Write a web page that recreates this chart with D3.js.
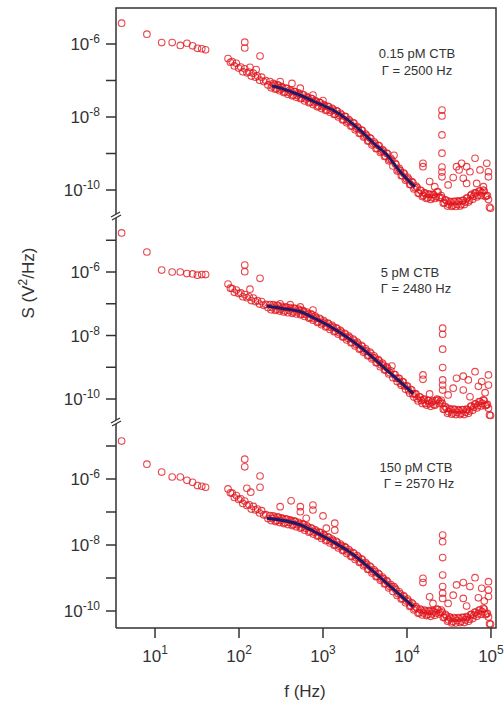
<!DOCTYPE html>
<html>
<head>
<meta charset="utf-8">
<script src="https://cdnjs.cloudflare.com/ajax/libs/d3/7.8.5/d3.min.js"></script>
<style>
  body { margin: 0; background: #fff; }
  text { font-family: "Liberation Sans", Arial, sans-serif; fill: #333; }
</style>
</head>
<body>
<script>
// frequency grid (Hz), shared by the three spectra
var freq = [4, 8, 12, 16, 20, 24, 28, 32, 36, 40,
  74, 79, 83, 88, 93, 99,
  105, 111, 117, 124, 132, 140, 148, 157, 166, 176,
  186, 197, 209, 221, 234, 248, 263, 279, 295, 313,
  331, 351, 372, 394, 417, 442, 468, 495, 525, 556,
  589, 624, 661, 700, 741, 785, 832, 881, 933, 989,
  1047, 1109, 1175, 1245, 1318, 1396, 1479, 1567, 1660, 1758,
  1862, 1972, 2089, 2213, 2344, 2483, 2630, 2786, 2951, 3126,
  3311, 3508, 3715, 3936, 4169, 4416, 4677, 4955, 5248, 5559,
  5888, 6237, 6607, 6998, 7413, 7852, 8318, 8810, 9333, 9886,
  10470, 11090, 11750, 12450, 13180, 13960, 14790, 15670, 16600, 17580,
  18620, 19720, 20890, 22130, 23440, 24830, 26300, 27860, 29510, 31260,
  33110, 35080, 37150, 39360, 41690, 44160, 46770, 49550, 52480, 55590,
  58880, 62370, 66070, 69980, 74130, 78520, 83180, 88100, 93330, 98860]

// log10 S (V^2/Hz) for each concentration, same order as freq
var logS015 = [-5.43, -5.73, -5.96, -5.96, -6.04, -5.98, -6.05, -6.12, -6.13, -6.16,
  -6.40, -6.50, -6.48, -6.60, -6.53, -6.66,
  -6.63, -6.76, -6.68, -6.79, -6.77, -6.88, -6.80, -6.91, -6.88, -6.99,
  -6.91, -7.03, -7.00, -7.12, -7.03, -7.15, -7.11, -7.22, -7.13, -7.24,
  -7.20, -7.31, -7.22, -7.33, -7.29, -7.40, -7.31, -7.41, -7.37, -7.48,
  -7.39, -7.51, -7.47, -7.59, -7.50, -7.61, -7.58, -7.70, -7.61, -7.72,
  -7.69, -7.80, -7.72, -7.82, -7.79, -7.92, -7.84, -7.96, -7.94, -8.07,
  -7.99, -8.12, -8.11, -8.24, -8.17, -8.31, -8.30, -8.44, -8.37, -8.52,
  -8.51, -8.65, -8.59, -8.73, -8.72, -8.86, -8.79, -8.94, -8.93, -9.07,
  -9.01, -9.17, -9.18, -9.05, -9.30, -9.45, -9.46, -9.61, -9.56, -9.70,
  -9.70, -9.85, -9.80, -9.94, -9.93, -10.09, -10.02, -10.15, -10.10, -10.21,
  -10.12, -10.21, -10.13, -10.18, -10.05, -10.20, -10.22, -10.35, -10.29, -10.39,
  -10.33, -10.42, -10.32, -10.39, -10.32, -10.40, -10.28, -10.33, -10.22, -10.28,
  -10.12, -10.17, -10.08, -10.15, -10.03, -10.08, -10.03, -10.16, -10.26, -10.50]

var logS5 = [-4.77, -5.37, -5.94, -6.00, -6.00, -6.05, -6.06, -6.10, -6.08, -6.08,
  -6.38, -6.51, -6.52, -6.64, -6.57, -6.68,
  -6.66, -6.78, -6.71, -6.81, -6.78, -6.90, -6.82, -6.93, -6.90, -7.01,
  -6.93, -7.05, -7.02, -7.12, -7.03, -7.12, -7.07, -7.17, -7.07, -7.17,
  -7.12, -7.22, -7.12, -7.21, -7.16, -7.26, -7.16, -7.26, -7.21, -7.32,
  -7.24, -7.34, -7.31, -7.43, -7.35, -7.47, -7.44, -7.57, -7.49, -7.61,
  -7.58, -7.71, -7.64, -7.75, -7.73, -7.86, -7.79, -7.91, -7.89, -8.03,
  -7.96, -8.09, -8.07, -8.21, -8.15, -8.28, -8.27, -8.41, -8.35, -8.49,
  -8.48, -8.62, -8.56, -8.70, -8.70, -8.85, -8.80, -8.93, -8.93, -9.08,
  -9.03, -9.17, -8.96, -9.23, -9.35, -9.35, -9.50, -9.45, -9.59, -9.59,
  -9.74, -9.70, -9.84, -9.84, -9.99, -9.93, -10.05, -10.02, -10.14, -10.05,
  -10.15, -10.10, -10.17, -10.05, -10.03, -10.09, -10.14, -10.32, -10.29, -10.40,
  -10.34, -10.44, -10.34, -10.42, -10.36, -10.45, -10.34, -10.42, -10.34, -10.38,
  -10.22, -10.26, -10.16, -10.21, -10.09, -10.14, -10.05, -10.19, -10.29, -10.52]

var logS150 = [-4.85, -5.55, -5.79, -5.94, -5.94, -6.04, -6.10, -6.20, -6.22, -6.25,
  -6.30, -6.42, -6.43, -6.56, -6.50, -6.62,
  -6.60, -6.74, -6.67, -6.80, -6.78, -6.91, -6.83, -6.94, -6.91, -7.03,
  -6.96, -7.09, -7.08, -7.20, -7.11, -7.20, -7.16, -7.26, -7.16, -7.26,
  -7.21, -7.32, -7.22, -7.32, -7.27, -7.38, -7.29, -7.39, -7.35, -7.46,
  -7.38, -7.49, -7.46, -7.58, -7.50, -7.61, -7.58, -7.71, -7.63, -7.75,
  -7.72, -7.85, -7.77, -7.89, -7.86, -7.99, -7.92, -8.04, -8.02, -8.15,
  -8.08, -8.21, -8.19, -8.33, -8.26, -8.39, -8.37, -8.51, -8.45, -8.59,
  -8.58, -8.73, -8.67, -8.81, -8.80, -8.95, -8.89, -9.03, -9.02, -9.17,
  -9.12, -9.26, -9.25, -9.26, -9.36, -9.48, -9.48, -9.62, -9.57, -9.70,
  -9.70, -9.84, -9.79, -9.93, -9.92, -10.05, -9.97, -10.06, -10.00, -10.10,
  -10.01, -10.09, -10.02, -10.06, -9.96, -10.04, -10.03, -10.19, -10.15, -10.27,
  -10.22, -10.32, -10.22, -10.29, -10.22, -10.31, -10.20, -10.27, -10.19, -10.25,
  -10.10, -10.13, -10.04, -10.09, -9.97, -10.02, -9.94, -10.09, -10.18, -10.40]

// second, interleaved frequency set above 240 Hz (dense part of the spectra)
var freqB = [241, 256, 271, 287, 304,
  322, 341, 361, 382, 405, 429, 454, 481, 510, 540,
  572, 606, 642, 680, 720, 763, 808, 856, 907, 961,
  1018, 1078, 1142, 1210, 1281, 1357, 1437, 1522, 1613, 1708,
  1809, 1917, 2030, 2150, 2278, 2413, 2556, 2707, 2867, 3037,
  3217, 3408, 3610, 3824, 4050, 4290, 4545, 4814, 5099, 5401,
  5721, 6061, 6420, 6800, 7203, 7630, 8082, 8561, 9069, 9606,
  10170, 10780, 11420, 12090, 12810, 13570, 14370, 15220, 16130, 17080,
  18090, 19170, 20300, 21500, 22780, 24130, 25560, 27070, 28670, 30370,
  32170, 34080, 36100, 38240, 40500, 42900, 45450, 48140, 50990, 54010,
  57210, 60610, 64200, 68000, 72030, 76300, 80820, 85610, 90690, 96060]

var logS015B = [-7.20, -7.08, -7.24, -7.12, -7.28,
  -7.17, -7.33, -7.21, -7.38, -7.26, -7.42, -7.30, -7.46, -7.34, -7.50,
  -7.39, -7.56, -7.44, -7.61, -7.49, -7.66, -7.55, -7.72, -7.60, -7.77,
  -7.66, -7.82, -7.71, -7.87, -7.76, -7.93, -7.83, -8.00, -7.90, -8.08,
  -7.98, -8.16, -8.07, -8.25, -8.16, -8.35, -8.26, -8.45, -8.36, -8.55,
  -8.47, -8.66, -8.57, -8.77, -8.68, -8.87, -8.78, -8.97, -8.89, -9.08,
  -8.99, -9.20, -9.13, -9.34, -9.27, -9.48, -9.41, -9.61, -9.53, -9.73,
  -9.65, -9.85, -9.77, -9.97, -9.89, -10.09, -10.00, -10.18, -10.07, -10.23,
  -10.11, -10.26, -10.12, -10.23, -10.05, -10.21, -10.15, -10.36, -10.27, -10.44,
  -10.31, -10.45, -10.31, -10.45, -10.30, -10.44, -10.29, -10.40, -10.22, -10.33,
  -10.15, -10.25, -10.08, -10.19, -10.03, -10.15, -10.00, -10.18, -10.15, -10.47]

var logS5B = [-7.19, -7.03, -7.21, -7.05, -7.23,
  -7.08, -7.26, -7.10, -7.28, -7.12, -7.30, -7.14, -7.32, -7.17, -7.35,
  -7.21, -7.40, -7.26, -7.46, -7.32, -7.52, -7.39, -7.59, -7.46, -7.66,
  -7.53, -7.73, -7.61, -7.81, -7.68, -7.88, -7.76, -7.96, -7.84, -8.05,
  -7.93, -8.14, -8.02, -8.23, -8.11, -8.33, -8.21, -8.43, -8.31, -8.53,
  -8.42, -8.64, -8.52, -8.74, -8.64, -8.86, -8.76, -8.98, -8.87, -9.09,
  -8.99, -9.21, -9.11, -9.33, -9.23, -9.45, -9.35, -9.57, -9.47, -9.69,
  -9.59, -9.82, -9.72, -9.94, -9.84, -10.06, -9.94, -10.14, -10.00, -10.19,
  -10.05, -10.23, -10.06, -10.20, -10.00, -10.14, -10.04, -10.32, -10.24, -10.45,
  -10.30, -10.48, -10.32, -10.49, -10.33, -10.49, -10.33, -10.49, -10.32, -10.45,
  -10.23, -10.35, -10.15, -10.28, -10.08, -10.22, -10.03, -10.21, -10.17, -10.50]

var logS150B = [-7.26, -7.12, -7.29, -7.15, -7.32,
  -7.18, -7.35, -7.21, -7.38, -7.24, -7.41, -7.27, -7.45, -7.31, -7.49,
  -7.36, -7.55, -7.42, -7.61, -7.48, -7.67, -7.54, -7.73, -7.61, -7.80,
  -7.68, -7.87, -7.75, -7.94, -7.82, -8.01, -7.89, -8.09, -7.97, -8.17,
  -8.05, -8.26, -8.14, -8.35, -8.23, -8.44, -8.32, -8.53, -8.42, -8.63,
  -8.53, -8.74, -8.64, -8.85, -8.75, -8.96, -8.86, -9.07, -8.97, -9.18,
  -9.08, -9.30, -9.20, -9.41, -9.31, -9.53, -9.42, -9.64, -9.53, -9.75,
  -9.64, -9.86, -9.75, -9.97, -9.87, -10.07, -9.94, -10.12, -9.97, -10.14,
  -9.99, -10.16, -9.99, -10.13, -9.94, -10.09, -9.97, -10.20, -10.10, -10.31,
  -10.18, -10.36, -10.20, -10.36, -10.20, -10.35, -10.19, -10.35, -10.17, -10.31,
  -10.11, -10.23, -10.03, -10.16, -9.97, -10.10, -9.92, -10.11, -10.07, -10.39]

// isolated points above the spectra (mains peaks, spurs): [f, log10 S]
var extra015 = [[117, -5.95], [117, -6.11], [178, -6.33], [135, -6.64], [160, -6.70],
  [309, -7.03], [427, -7.08], [537, -7.21], [760, -7.40], [1000, -7.55],
  [26100, -7.81], [26100, -7.97], [26100, -8.49], [26100, -8.99], [26100, -9.37], [26100, -9.51], [26100, -9.64],
  [15500, -9.27], [15500, -9.36], [18600, -9.77], [21400, -9.91], [30900, -9.86], [35500, -9.66],
  [38900, -9.36], [44700, -9.27], [46800, -9.68], [51300, -9.36], [56200, -9.50], [64600, -9.13],
  [67600, -9.82], [74100, -9.45], [81300, -9.91], [89100, -9.27], [93300, -9.50], [93300, -9.64],
  [51300, -9.82], [41700, -9.45]]

var extra5 = [[117, -5.78], [117, -5.99], [178, -6.20], [135, -6.54],
  [309, -7.00], [407, -7.03], [537, -7.10], [760, -7.20],
  [26600, -7.77], [26600, -7.96], [26600, -8.43], [26600, -9.01], [26600, -9.40], [26600, -9.56], [26600, -9.72],
  [15500, -9.24], [15500, -9.38], [18600, -9.84], [30900, -9.87], [38900, -9.35], [46800, -9.28],
  [53700, -9.40], [64600, -9.14], [77600, -9.45], [93300, -9.24], [93300, -9.56], [46800, -9.72],
  [56200, -9.93], [35500, -9.66], [70800, -9.60], [85100, -9.80]]

var extra150 = [[117, -5.40], [117, -5.63], [178, -5.91], [178, -6.25], [124, -6.28], [138, -6.40],
  [309, -6.84], [417, -6.66], [537, -6.84], [537, -6.99], [631, -7.19], [759, -6.79], [759, -6.94],
  [1000, -7.12], [1096, -7.49], [1380, -7.34], [1380, -7.55],
  [26600, -7.70], [26600, -7.90], [26600, -8.38], [26600, -8.91], [26600, -9.26], [26600, -9.46], [26600, -9.62],
  [15500, -9.01], [15500, -9.14], [18600, -9.57], [20400, -9.77], [30900, -9.77], [35500, -9.52],
  [38900, -9.21], [46800, -9.14], [46800, -9.62], [51300, -9.85], [56200, -9.26], [64600, -8.99],
  [77600, -9.31], [93300, -9.11], [93300, -9.36], [93300, -9.56], [70800, -9.60], [83200, -9.70]]

// fitted curves: [f, log10 S]
var fit015 = [[247, -7.15], [355, -7.25], [532, -7.40], [794, -7.58], [1315, -7.81], [1900, -8.05],
  [2755, -8.36], [3980, -8.71], [5780, -9.04], [8320, -9.50], [12450, -9.92]]
var fit5 = [[214, -7.07], [310, -7.14], [537, -7.25], [794, -7.46], [1318, -7.77], [1905, -8.04],
  [2754, -8.35], [3981, -8.71], [5754, -9.09], [8318, -9.46], [11890, -9.83]]
var fit150 = [[214, -7.19], [537, -7.39], [794, -7.60], [1318, -7.90], [1905, -8.15],
  [2754, -8.45], [3981, -8.80], [5754, -9.16], [8318, -9.52], [11890, -9.87]]

var concLabels = ['0.15 pM CTB', '5 pM CTB', '150 pM CTB']
var gammaLabels = ['\u0393 = 2500 Hz', '\u0393 = 2480 Hz', '\u0393 = 2570 Hz']
var xTickExp = [1, 2, 3, 4, 5]
var yTickExp = [-10, -9, -8, -7, -6, -5]
var yLabelExp = [-10, -8, -6]

var W = 504, H = 705
var left = 116, right = 496

var svg = d3.select('body').append('svg')
  .attr('width', W)
  .attr('height', H)

var x = d3.scaleLog()
  .domain([3.43, 1.148e5])
  .range([left, right])

// three stacked panels, each with its own log y axis
var panels = [
  { top: 8, bottom: 216, lo: -10.712, hi: -5.014, data: logS015, dataB: logS015B, extra: extra015, fit: fit015, ann: [[417, 58], [417, 75]] },
  { top: 216, bottom: 422, lo: -10.724, hi: -4.236, data: logS5, dataB: logS5B, extra: extra5, fit: fit5, ann: [[410, 277], [416, 293]] },
  { top: 422, bottom: 628, lo: -10.515, hi: -4.273, data: logS150, dataB: logS150B, extra: extra150, fit: fit150, ann: [[416, 472], [419, 488]] }
]

var axisColor = '#333'

panels.forEach(function(p, i) {
  var y = d3.scaleLog()
    .domain([Math.pow(10, p.lo), Math.pow(10, p.hi)])
    .range([p.bottom, p.top])

  var g = svg.append('g')

  var pts = d3.zip(freq, p.data)
    .concat(d3.zip(freqB, p.dataB))
    .concat(p.extra)

  g.selectAll('circle')
    .data(pts)
    .enter()
    .append('circle')
      .attr('cx', function(d) { return x(d[0]) })
      .attr('cy', function(d) { return y(Math.pow(10, d[1])) })
      .attr('r', 3.3)
      .attr('fill', 'none')
      .attr('stroke', '#e0141c')
      .attr('stroke-opacity', 0.78)
      .attr('stroke-width', 1.1)

  var line = d3.line()
    .x(function(d) { return x(d[0]) })
    .y(function(d) { return y(Math.pow(10, d[1])) })
    .curve(d3.curveMonotoneX)

  g.append('path')
    .datum(p.fit)
    .attr('d', line)
    .attr('fill', 'none')
    .attr('stroke', '#1c1a6b')
    .attr('stroke-width', 2.8)

  // y ticks (every decade), labels every other decade
  var ticks = yTickExp.filter(function(e) {
    var v = y(Math.pow(10, e))
    return v > p.top + 1 && v < p.bottom - 1
  })
  g.selectAll('line.tick')
    .data(ticks)
    .enter()
    .append('line')
      .attr('x1', left - 10)
      .attr('x2', left)
      .attr('y1', function(e) { return y(Math.pow(10, e)) })
      .attr('y2', function(e) { return y(Math.pow(10, e)) })
      .attr('stroke', axisColor)
      .attr('stroke-width', 1.5)

  var lab = g.selectAll('text.ylab')
    .data(yLabelExp)
    .enter()
    .append('text')
      .attr('class', 'ylab')
      .attr('x', left - 16)
      .attr('y', function(e) { return y(Math.pow(10, e)) + 6 })
      .attr('text-anchor', 'end')
      .style('font-size', '17px')
  lab.append('tspan').text('10')
  lab.append('tspan')
    .attr('dy', -7)
    .style('font-size', '12px')
    .text(function(e) { return '-' + Math.abs(e) })

  // annotation
  g.append('text')
    .attr('x', p.ann[0][0])
    .attr('y', p.ann[0][1])
    .attr('text-anchor', 'middle')
    .style('font-size', '13px')
    .text(concLabels[i])
  g.append('text')
    .attr('x', p.ann[1][0])
    .attr('y', p.ann[1][1])
    .attr('text-anchor', 'middle')
    .style('font-size', '13px')
    .text(gammaLabels[i])
})

// frame
var frame = svg.append('g')
  .attr('stroke', axisColor)
  .attr('stroke-width', 1.5)
  .attr('fill', 'none')
frame.append('path')
  .attr('d', 'M' + left + ',628V8H' + right + 'V628H' + left)

// axis breaks
;[216, 422].forEach(function(yb) {
  svg.append('rect')
    .attr('x', left - 5).attr('y', yb - 2)
    .attr('width', 10).attr('height', 4)
    .attr('fill', '#fff')
  svg.append('line')
    .attr('x1', left - 5).attr('y1', yb + 1)
    .attr('x2', left + 4).attr('y2', yb - 4)
    .attr('stroke', axisColor).attr('stroke-width', 1.3)
  svg.append('line')
    .attr('x1', left - 4).attr('y1', yb + 4)
    .attr('x2', left + 5).attr('y2', yb - 1)
    .attr('stroke', axisColor).attr('stroke-width', 1.3)
})

// x axis ticks and labels
svg.selectAll('line.xtick')
  .data(xTickExp)
  .enter()
  .append('line')
    .attr('x1', function(e) { return x(Math.pow(10, e)) })
    .attr('x2', function(e) { return x(Math.pow(10, e)) })
    .attr('y1', 628)
    .attr('y2', 638)
    .attr('stroke', axisColor)
    .attr('stroke-width', 1.5)

var xl = svg.selectAll('text.xlab')
  .data(xTickExp)
  .enter()
  .append('text')
    .attr('class', 'xlab')
    .attr('x', function(e) { return x(Math.pow(10, e)) })
    .attr('y', 662)
    .attr('text-anchor', 'middle')
    .style('font-size', '17px')
xl.append('tspan').text('10')
xl.append('tspan')
  .attr('dy', -8)
  .style('font-size', '12px')
  .text(function(e) { return e })

svg.append('text')
  .attr('x', 305)
  .attr('y', 697)
  .attr('text-anchor', 'middle')
  .style('font-size', '17px')
  .text('f (Hz)')

var yt = svg.append('text')
  .attr('transform', 'translate(34,283) rotate(-90)')
  .attr('text-anchor', 'middle')
  .style('font-size', '17px')
yt.append('tspan').text('S (V')
yt.append('tspan').attr('dy', -7).style('font-size', '12px').text('2')
yt.append('tspan').attr('dy', 7).text('/Hz)')
</script>
</body>
</html>
